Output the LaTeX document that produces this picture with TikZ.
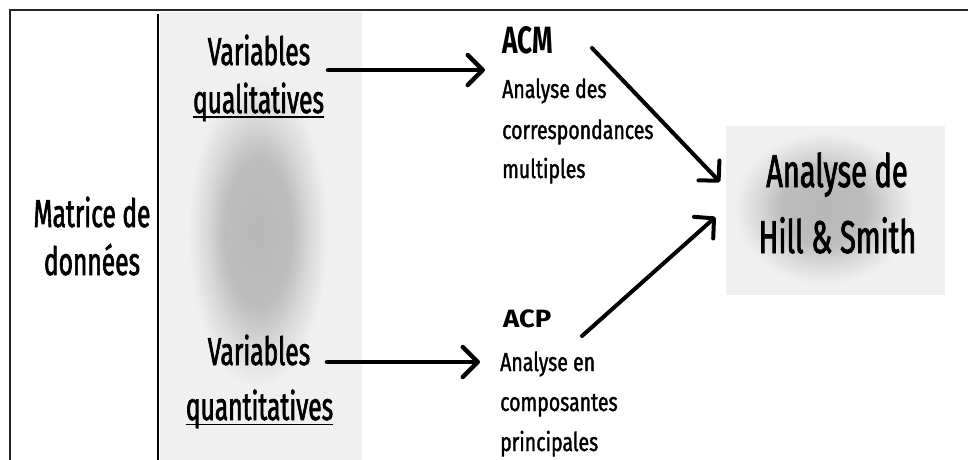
\documentclass[tikz,border=0pt]{standalone}
\usepackage{fontspec}
\usetikzlibrary{arrows.meta}

% Hand-drawn look: condensed, slightly heavier sans faces at several widths
\newfontfamily\hbig[FakeStretch=0.63, FakeBold=1.6]{Fira Sans}
\newfontfamily\hsmall[FakeStretch=0.75, FakeBold=1.3]{Fira Sans}
\newfontfamily\hacm[FakeStretch=0.69]{Fira Sans}
\newfontfamily\hacp[FakeStretch=1.1]{Fira Sans}

\definecolor{panelgray}{gray}{0.94}

% soft dark centre that fades into the light panel colour
\pgfdeclareradialshading{glow}{\pgfpoint{0bp}{0bp}}{%
  color(0bp)=(black!28); color(12bp)=(black!26);
  color(19bp)=(black!14); color(25bp)=(panelgray); color(50bp)=(panelgray)}

\tikzset{
  bigtxt/.style={font=\hbig\fontsize{39}{39}\selectfont, inner sep=0pt, anchor=base},
  hilltxt/.style={font=\hbig\fontsize{46}{46}\selectfont, inner sep=0pt, anchor=base},
  smalltxt/.style={font=\hsmall\fontsize{26}{26}\selectfont, inner sep=0pt, anchor=base west},
  acmtxt/.style={font=\hacm\bfseries\fontsize{38}{38}\selectfont, inner sep=0pt, anchor=base west},
  acptxt/.style={font=\hacp\bfseries\fontsize{25}{25}\selectfont, inner sep=0pt, anchor=base west},
  arr/.style={line width=4.5pt, line cap=round,
    -{Straight Barb[round, length=15pt, width=30pt]}},
  darr/.style={line width=4pt, line cap=round,
    -{Straight Barb[round, length=14pt, width=29pt]}},
  uline/.style={line width=1.8pt},
  frame/.style={line width=2.6pt, black!85},
}

\begin{document}
\begin{tikzpicture}[x=1pt, y=-1pt]
  \useasboundingbox (0,0) rectangle (968,459);
  \clip (0,0) rectangle (968,459);
  \fill[white] (0,0) rectangle (968,459);

  % variables panel with its soft shadow
  \fill[panelgray] (160,12) rectangle (362,470);
  \shade[shading=glow] (188,78) rectangle (328,388);

  % result box with its soft shadow
  \begin{scope}
    \clip (726,126) rectangle (945,295);
    \fill[panelgray] (726,126) rectangle (945,295);
    \shade[shading=glow] (734,132) rectangle (914,284);
  \end{scope}

  % outer frame and column divider
  \draw[frame] (975,10) -- (10,10) -- (10,470);
  \draw[line width=2pt] (158,14) -- (158,470);

  % data matrix
  \node[bigtxt] (mat1) at (92,227) {Matrice de};
  \node[bigtxt] (mat2) at (92,275) {données};

  % variable types
  \node[bigtxt] (var1) at (259,65) {Variables};
  \node[bigtxt] (qual) at (258.5,113) {qualitatives};
  \draw[uline] ([shift={(0,4)}]qual.base west) -- ([shift={(0,4)}]qual.base east);

  \node[bigtxt] (var2) at (259,365) {Variables};
  \node[bigtxt] (quant) at (259.5,420) {quantitatives};
  \draw[uline] ([shift={(0,4.5)}]quant.base west) -- ([shift={(0,4.5)}]quant.base east);

  % methods
  \node[acmtxt] (acm) at (502,53) {ACM};
  \node[smalltxt] (acm1) at (502,98) {Analyse des};
  \node[smalltxt] (acm2) at (502,139) {correspondances};
  \node[smalltxt] (acm3) at (502,178) {multiples};

  \node[acptxt] (acp) at (503,327) {ACP};
  \node[smalltxt] (acp1) at (500,371) {Analyse en};
  \node[smalltxt] (acp2) at (500,411) {composantes};
  \node[smalltxt] (acp3) at (500,451) {principales};

  % combined analysis
  \node[hilltxt] (hs1) at (837,187) {Analyse de};
  \node[hilltxt] (hs2) at (837.5,253) {Hill \& Smith};

  % connectors
  \draw[arr] ([shift={(69,5)}]var1.base) -- ([shift={(-17,-28)}]acm1.base west);
  \draw[arr] ([shift={(68,-3)}]var2.base) -- ([shift={(-20,-9)}]acp1.base west);
  \draw[darr] ([shift={(90,-5)}]acm.base west) -- ([shift={(-117,-5)}]hs1.base);
  \draw[darr] ([shift={(79,9)}]acp.base west) -- ([shift={(-122,-36)}]hs2.base);
\end{tikzpicture}
\end{document}
